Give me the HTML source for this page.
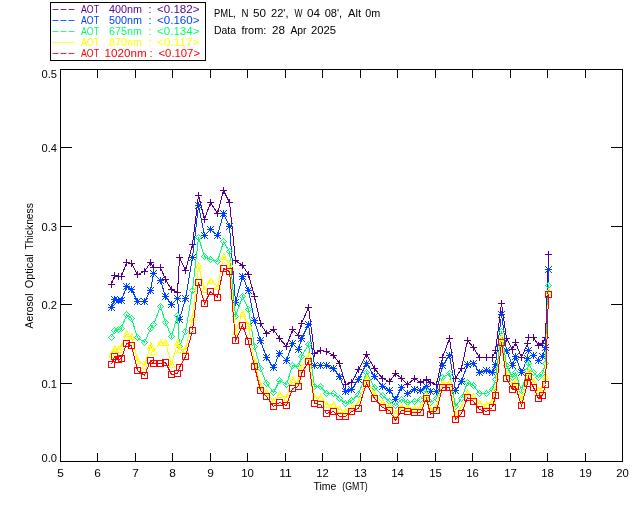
<!DOCTYPE html>
<html lang="en"><head><meta charset="utf-8"><title>AOT PML 28 Apr 2025</title>
<style>html,body{margin:0;padding:0;background:#fff}svg{display:block}text{font-family:"Liberation Sans",sans-serif;font-size:11px;fill:#000}.ln{fill:none;stroke-width:1;shape-rendering:crispEdges}</style></head><body>
<svg width="640" height="512" viewBox="0 0 640 512">
<rect width="640" height="512" fill="#fff"/>
<g class="ln" stroke="#000">
<rect x="60.5" y="69.5" width="562" height="392"/>
<path d="M97.5 461.5V453M97.5 69.5V78M135.5 461.5V453M135.5 69.5V78M172.5 461.5V453M172.5 69.5V78M210.5 461.5V453M210.5 69.5V78M247.5 461.5V453M247.5 69.5V78M285.5 461.5V453M285.5 69.5V78M322.5 461.5V453M322.5 69.5V78M360.5 461.5V453M360.5 69.5V78M397.5 461.5V453M397.5 69.5V78M435.5 461.5V453M435.5 69.5V78M472.5 461.5V453M472.5 69.5V78M510.5 461.5V453M510.5 69.5V78M547.5 461.5V453M547.5 69.5V78M585.5 461.5V453M585.5 69.5V78M60.5 383.5H72M622.5 383.5H611M60.5 304.5H72M622.5 304.5H611M60.5 226.5H72M622.5 226.5H611M60.5 147.5H72M622.5 147.5H611"/>
<rect x="50.5" y="2.5" width="155" height="58"/>
</g>
<defs>
<marker id="mP" viewBox="-4 -4 8 8" markerWidth="8" markerHeight="8" refX="0" refY="0" markerUnits="userSpaceOnUse" orient="0"><path d="M-0.5 -3.5h1v1h-1zM-0.5 -2.5h1v1h-1zM-0.5 -1.5h1v1h-1zM-3.5 -0.5h7v1h-7zM-0.5 0.5h1v1h-1zM-0.5 1.5h1v1h-1zM-0.5 2.5h1v1h-1z" fill="#55008f" stroke="none" shape-rendering="crispEdges"/></marker>
<marker id="mB" viewBox="-4 -4 8 8" markerWidth="8" markerHeight="8" refX="0" refY="0" markerUnits="userSpaceOnUse" orient="0"><path d="M-3.5 -3.5h1v1h-1zM-0.5 -3.5h1v1h-1zM2.5 -3.5h1v1h-1zM-2.5 -2.5h1v1h-1zM-0.5 -2.5h1v1h-1zM1.5 -2.5h1v1h-1zM-1.5 -1.5h3v1h-3zM-3.5 -0.5h7v1h-7zM-1.5 0.5h3v1h-3zM-2.5 1.5h1v1h-1zM-0.5 1.5h1v1h-1zM1.5 1.5h1v1h-1zM-3.5 2.5h1v1h-1zM-0.5 2.5h1v1h-1zM2.5 2.5h1v1h-1z" fill="#0040ff" stroke="none" shape-rendering="crispEdges"/></marker>
<marker id="mG" viewBox="-4 -4 8 8" markerWidth="8" markerHeight="8" refX="0" refY="0" markerUnits="userSpaceOnUse" orient="0"><path d="M-0.5 -3.5h1v1h-1zM-1.5 -2.5h1v1h-1zM0.5 -2.5h1v1h-1zM-2.5 -1.5h1v1h-1zM1.5 -1.5h1v1h-1zM-3.5 -0.5h1v1h-1zM2.5 -0.5h1v1h-1zM-2.5 0.5h1v1h-1zM1.5 0.5h1v1h-1zM-1.5 1.5h1v1h-1zM0.5 1.5h1v1h-1zM-0.5 2.5h1v1h-1z" fill="#00ff70" stroke="none" shape-rendering="crispEdges"/></marker>
<marker id="mY" viewBox="-4 -4 8 8" markerWidth="8" markerHeight="8" refX="0" refY="0" markerUnits="userSpaceOnUse" orient="0"><path d="M-0.5 -3.5h1v1h-1zM-0.5 -2.5h2v1h-2zM-1.5 -1.5h1v1h-1zM0.5 -1.5h1v1h-1zM-1.5 -0.5h1v1h-1zM1.5 -0.5h1v1h-1zM-2.5 0.5h1v1h-1zM1.5 0.5h1v1h-1zM-2.5 1.5h1v1h-1zM2.5 1.5h1v1h-1zM-3.5 2.5h7v1h-7z" fill="#ffff00" stroke="none" shape-rendering="crispEdges"/></marker>
<marker id="mR" viewBox="-4 -4 8 8" markerWidth="8" markerHeight="8" refX="0" refY="0" markerUnits="userSpaceOnUse" orient="0"><path d="M-3.5 -3.5h7v1h-7zM-3.5 -2.5h1v1h-1zM2.5 -2.5h1v1h-1zM-3.5 -1.5h1v1h-1zM2.5 -1.5h1v1h-1zM-3.5 -0.5h1v1h-1zM2.5 -0.5h1v1h-1zM-3.5 0.5h1v1h-1zM2.5 0.5h1v1h-1zM-3.5 1.5h1v1h-1zM2.5 1.5h1v1h-1zM-3.5 2.5h7v1h-7z" fill="#ff0000" stroke="none" shape-rendering="crispEdges"/></marker>
</defs>
<polyline class="ln" stroke="#55008f" marker-start="url(#mP)" marker-mid="url(#mP)" marker-end="url(#mP)" points="111.5,284.5 114.5,275.5 118.5,276.5 121.5,276.5 126.5,262.5 131.5,263.5 137.5,274.5 144.5,271.5 150.5,262.5 153.5,267.5 160.5,267.5 165.5,279.5 171.5,289.5 177.5,292.5 179.5,257.5 185.5,270.5 192.5,244.5 198.5,195.5 204.5,219.5 210.5,202.5 217.5,213.5 223.5,190.5 229.5,202.5 235.5,260.5 242.5,265.5 248.5,274.5 254.5,296.5 260.5,323.5 266.5,333.5 273.5,329.5 279.5,338.5 286.5,346.5 292.5,329.5 298.5,335.5 301.5,323.5 308.5,307.5 314.5,353.5 320.5,350.5 326.5,351.5 333.5,355.5 339.5,363.5 345.5,384.5 351.5,382.5 358.5,369.5 366.5,354.5 374.5,368.5 382.5,378.5 389.5,381.5 395.5,373.5 401.5,378.5 407.5,384.5 414.5,378.5 420.5,382.5 426.5,379.5 430.5,382.5 436.5,384.5 442.5,357.5 449.5,338.5 455.5,378.5 461.5,368.5 467.5,340.5 473.5,347.5 479.5,357.5 486.5,357.5 492.5,357.5 495.5,350.5 501.5,303.5 506.5,338.5 512.5,349.5 515.5,342.5 521.5,357.5 527.5,343.5 528.5,337.5 533.5,337.5 538.5,345.5 542.5,343.5 545.5,337.5 548.5,254.5"/>
<polyline class="ln" stroke="#0040ff" marker-start="url(#mB)" marker-mid="url(#mB)" marker-end="url(#mB)" points="111.5,307.5 114.5,299.5 118.5,300.5 121.5,300.5 126.5,286.5 131.5,289.5 137.5,301.5 144.5,301.5 150.5,290.5 153.5,273.5 160.5,280.5 165.5,296.5 171.5,304.5 177.5,298.5 179.5,319.5 185.5,298.5 192.5,257.5 198.5,205.5 204.5,235.5 210.5,229.5 217.5,235.5 223.5,213.5 229.5,226.5 235.5,302.5 242.5,276.5 248.5,290.5 254.5,320.5 260.5,340.5 266.5,357.5 273.5,367.5 279.5,353.5 286.5,360.5 292.5,343.5 298.5,349.5 301.5,338.5 308.5,324.5 314.5,365.5 320.5,365.5 326.5,365.5 333.5,368.5 339.5,376.5 345.5,391.5 351.5,389.5 358.5,379.5 366.5,363.5 374.5,376.5 382.5,386.5 389.5,390.5 395.5,399.5 401.5,387.5 407.5,393.5 414.5,389.5 420.5,390.5 426.5,386.5 430.5,391.5 436.5,391.5 442.5,365.5 449.5,355.5 455.5,390.5 461.5,381.5 467.5,364.5 473.5,363.5 479.5,372.5 486.5,370.5 492.5,372.5 495.5,364.5 501.5,314.5 506.5,350.5 512.5,365.5 515.5,356.5 521.5,372.5 527.5,358.5 528.5,350.5 533.5,355.5 538.5,360.5 542.5,356.5 545.5,347.5 548.5,269.5"/>
<polyline class="ln" stroke="#00ff70" marker-start="url(#mG)" marker-mid="url(#mG)" marker-end="url(#mG)" points="111.5,337.5 114.5,330.5 118.5,329.5 121.5,328.5 126.5,314.5 131.5,318.5 137.5,337.5 144.5,342.5 150.5,328.5 153.5,324.5 160.5,306.5 165.5,322.5 171.5,336.5 177.5,315.5 179.5,346.5 185.5,331.5 192.5,290.5 198.5,237.5 204.5,256.5 210.5,259.5 217.5,261.5 223.5,241.5 229.5,251.5 235.5,316.5 242.5,296.5 248.5,309.5 254.5,346.5 260.5,368.5 266.5,383.5 273.5,392.5 279.5,380.5 286.5,384.5 292.5,365.5 298.5,366.5 301.5,356.5 308.5,344.5 314.5,386.5 320.5,386.5 326.5,393.5 333.5,393.5 339.5,398.5 345.5,403.5 351.5,400.5 358.5,394.5 366.5,372.5 374.5,387.5 382.5,395.5 389.5,401.5 395.5,405.5 401.5,399.5 407.5,402.5 414.5,401.5 420.5,399.5 426.5,390.5 430.5,402.5 436.5,398.5 442.5,377.5 449.5,373.5 455.5,406.5 461.5,398.5 467.5,382.5 473.5,385.5 479.5,393.5 486.5,393.5 492.5,389.5 495.5,379.5 501.5,331.5 506.5,365.5 512.5,377.5 515.5,372.5 521.5,390.5 527.5,370.5 528.5,363.5 533.5,372.5 538.5,377.5 542.5,373.5 545.5,363.5 548.5,285.5"/>
<polyline class="ln" stroke="#ffff00" marker-start="url(#mY)" marker-mid="url(#mY)" marker-end="url(#mY)" points="111.5,354.5 114.5,348.5 118.5,349.5 121.5,346.5 126.5,333.5 131.5,336.5 137.5,360.5 144.5,365.5 150.5,345.5 153.5,351.5 160.5,342.5 165.5,342.5 171.5,364.5 177.5,342.5 179.5,349.5 185.5,349.5 192.5,317.5 198.5,265.5 204.5,289.5 210.5,280.5 217.5,286.5 223.5,256.5 229.5,263.5 235.5,331.5 242.5,313.5 248.5,325.5 254.5,361.5 260.5,385.5 266.5,392.5 273.5,401.5 279.5,394.5 286.5,397.5 292.5,379.5 298.5,381.5 301.5,367.5 308.5,355.5 314.5,397.5 320.5,397.5 326.5,404.5 333.5,404.5 339.5,409.5 345.5,411.5 351.5,407.5 358.5,402.5 366.5,378.5 374.5,394.5 382.5,402.5 389.5,406.5 395.5,413.5 401.5,406.5 407.5,407.5 414.5,408.5 420.5,407.5 426.5,395.5 430.5,409.5 436.5,406.5 442.5,382.5 449.5,382.5 455.5,414.5 461.5,407.5 467.5,392.5 473.5,396.5 479.5,403.5 486.5,404.5 492.5,400.5 495.5,389.5 501.5,337.5 506.5,373.5 512.5,384.5 515.5,381.5 521.5,399.5 527.5,378.5 528.5,371.5 533.5,381.5 538.5,390.5 542.5,387.5 545.5,376.5 548.5,291.5"/>
<polyline class="ln" stroke="#ff0000" marker-start="url(#mR)" marker-mid="url(#mR)" marker-end="url(#mR)" points="111.5,364.5 114.5,356.5 118.5,359.5 121.5,358.5 126.5,343.5 131.5,345.5 137.5,370.5 144.5,375.5 150.5,360.5 153.5,363.5 160.5,363.5 165.5,362.5 171.5,374.5 177.5,373.5 179.5,367.5 185.5,356.5 192.5,330.5 198.5,282.5 204.5,303.5 210.5,291.5 217.5,297.5 223.5,268.5 229.5,271.5 235.5,340.5 242.5,325.5 248.5,341.5 254.5,366.5 260.5,390.5 266.5,396.5 273.5,406.5 279.5,402.5 286.5,405.5 292.5,388.5 298.5,386.5 301.5,373.5 308.5,361.5 314.5,403.5 320.5,404.5 326.5,413.5 333.5,411.5 339.5,416.5 345.5,416.5 351.5,411.5 358.5,408.5 366.5,383.5 374.5,398.5 382.5,407.5 389.5,410.5 395.5,420.5 401.5,410.5 407.5,411.5 414.5,412.5 420.5,412.5 426.5,398.5 430.5,414.5 436.5,410.5 442.5,387.5 449.5,387.5 455.5,419.5 461.5,413.5 467.5,397.5 473.5,401.5 479.5,409.5 486.5,411.5 492.5,407.5 495.5,395.5 501.5,342.5 506.5,378.5 512.5,389.5 515.5,386.5 521.5,405.5 527.5,383.5 528.5,376.5 533.5,387.5 538.5,398.5 542.5,395.5 545.5,384.5 548.5,294.5"/>
<text x="51.6" y="11.6" textLength="24" lengthAdjust="spacingAndGlyphs" style="fill:#55008f">---</text>
<g style="fill:#55008f">
<text x="81" y="13" textLength="18" lengthAdjust="spacingAndGlyphs" style="fill:#55008f">AOT</text>
<text x="109" y="13" textLength="33" lengthAdjust="spacingAndGlyphs" style="fill:#55008f">400nm</text>
<text x="148.5" y="13" style="fill:#55008f">:</text>
<text x="157" y="13" textLength="42.5" lengthAdjust="spacingAndGlyphs" style="fill:#55008f">&lt;0.182&gt;</text>
</g>
<text x="51.6" y="22.6" textLength="24" lengthAdjust="spacingAndGlyphs" style="fill:#0040ff">---</text>
<g style="fill:#0040ff">
<text x="81" y="24" textLength="18" lengthAdjust="spacingAndGlyphs" style="fill:#0040ff">AOT</text>
<text x="109" y="24" textLength="33" lengthAdjust="spacingAndGlyphs" style="fill:#0040ff">500nm</text>
<text x="148.5" y="24" style="fill:#0040ff">:</text>
<text x="157" y="24" textLength="42.5" lengthAdjust="spacingAndGlyphs" style="fill:#0040ff">&lt;0.160&gt;</text>
</g>
<text x="51.6" y="33.6" textLength="24" lengthAdjust="spacingAndGlyphs" style="fill:#00ff70">---</text>
<g style="fill:#00ff70">
<text x="81" y="35" textLength="18" lengthAdjust="spacingAndGlyphs" style="fill:#00ff70">AOT</text>
<text x="109" y="35" textLength="33" lengthAdjust="spacingAndGlyphs" style="fill:#00ff70">675nm</text>
<text x="148.5" y="35" style="fill:#00ff70">:</text>
<text x="157" y="35" textLength="42.5" lengthAdjust="spacingAndGlyphs" style="fill:#00ff70">&lt;0.134&gt;</text>
</g>
<text x="51.6" y="44.6" textLength="24" lengthAdjust="spacingAndGlyphs" style="fill:#ffff00">---</text>
<g style="fill:#ffff00">
<text x="81" y="46" textLength="18" lengthAdjust="spacingAndGlyphs" style="fill:#ffff00">AOT</text>
<text x="109" y="46" textLength="33" lengthAdjust="spacingAndGlyphs" style="fill:#ffff00">870nm</text>
<text x="148.5" y="46" style="fill:#ffff00">:</text>
<text x="157" y="46" textLength="42.5" lengthAdjust="spacingAndGlyphs" style="fill:#ffff00">&lt;0.117&gt;</text>
</g>
<text x="51.6" y="55.6" textLength="24" lengthAdjust="spacingAndGlyphs" style="fill:#ff0000">---</text>
<g style="fill:#ff0000">
<text x="81" y="57" textLength="18" lengthAdjust="spacingAndGlyphs" style="fill:#ff0000">AOT</text>
<text x="104.6" y="57" textLength="42" lengthAdjust="spacingAndGlyphs" style="fill:#ff0000">1020nm</text>
<text x="149.5" y="57" style="fill:#ff0000">:</text>
<text x="158.5" y="57" textLength="41.5" lengthAdjust="spacingAndGlyphs" style="fill:#ff0000">&lt;0.107&gt;</text>
</g>
<text x="214" y="17" textLength="22" lengthAdjust="spacingAndGlyphs">PML,</text>
<text x="241.4" y="17" textLength="7" lengthAdjust="spacingAndGlyphs">N</text>
<text x="253" y="17" textLength="13" lengthAdjust="spacingAndGlyphs">50</text>
<text x="271" y="17" textLength="17.5" lengthAdjust="spacingAndGlyphs">22',</text>
<text x="294.4" y="17" textLength="8" lengthAdjust="spacingAndGlyphs">W</text>
<text x="307" y="17" textLength="13" lengthAdjust="spacingAndGlyphs">04</text>
<text x="324.7" y="17" textLength="17.5" lengthAdjust="spacingAndGlyphs">08',</text>
<text x="348" y="17" textLength="13" lengthAdjust="spacingAndGlyphs">Alt</text>
<text x="365.3" y="17" textLength="15" lengthAdjust="spacingAndGlyphs">0m</text>
<text x="214" y="34" textLength="22" lengthAdjust="spacingAndGlyphs">Data</text>
<text x="241.4" y="34" textLength="25" lengthAdjust="spacingAndGlyphs">from:</text>
<text x="272" y="34" textLength="13" lengthAdjust="spacingAndGlyphs">28</text>
<text x="290.5" y="34" textLength="16" lengthAdjust="spacingAndGlyphs">Apr</text>
<text x="311" y="34" textLength="25" lengthAdjust="spacingAndGlyphs">2025</text>
<text x="60.5" y="477" text-anchor="middle" textLength="6.6" lengthAdjust="spacingAndGlyphs">5</text>
<text x="97.5" y="477" text-anchor="middle" textLength="6.6" lengthAdjust="spacingAndGlyphs">6</text>
<text x="135.5" y="477" text-anchor="middle" textLength="6.6" lengthAdjust="spacingAndGlyphs">7</text>
<text x="172.5" y="477" text-anchor="middle" textLength="6.6" lengthAdjust="spacingAndGlyphs">8</text>
<text x="210.5" y="477" text-anchor="middle" textLength="6.6" lengthAdjust="spacingAndGlyphs">9</text>
<text x="247.5" y="477" text-anchor="middle" textLength="12.6" lengthAdjust="spacingAndGlyphs">10</text>
<text x="285.5" y="477" text-anchor="middle" textLength="12.6" lengthAdjust="spacingAndGlyphs">11</text>
<text x="322.5" y="477" text-anchor="middle" textLength="12.6" lengthAdjust="spacingAndGlyphs">12</text>
<text x="360.5" y="477" text-anchor="middle" textLength="12.6" lengthAdjust="spacingAndGlyphs">13</text>
<text x="397.5" y="477" text-anchor="middle" textLength="12.6" lengthAdjust="spacingAndGlyphs">14</text>
<text x="435.5" y="477" text-anchor="middle" textLength="12.6" lengthAdjust="spacingAndGlyphs">15</text>
<text x="472.5" y="477" text-anchor="middle" textLength="12.6" lengthAdjust="spacingAndGlyphs">16</text>
<text x="510.5" y="477" text-anchor="middle" textLength="12.6" lengthAdjust="spacingAndGlyphs">17</text>
<text x="547.5" y="477" text-anchor="middle" textLength="12.6" lengthAdjust="spacingAndGlyphs">18</text>
<text x="585.5" y="477" text-anchor="middle" textLength="12.6" lengthAdjust="spacingAndGlyphs">19</text>
<text x="622.5" y="477" text-anchor="middle" textLength="12.6" lengthAdjust="spacingAndGlyphs">20</text>
<text x="57" y="462" text-anchor="end" textLength="15.5" lengthAdjust="spacingAndGlyphs">0.0</text>
<text x="57" y="388" text-anchor="end" textLength="15.5" lengthAdjust="spacingAndGlyphs">0.1</text>
<text x="57" y="309" text-anchor="end" textLength="15.5" lengthAdjust="spacingAndGlyphs">0.2</text>
<text x="57" y="231" text-anchor="end" textLength="15.5" lengthAdjust="spacingAndGlyphs">0.3</text>
<text x="57" y="152" text-anchor="end" textLength="15.5" lengthAdjust="spacingAndGlyphs">0.4</text>
<text x="57" y="77.5" text-anchor="end" textLength="15.5" lengthAdjust="spacingAndGlyphs">0.5</text>
<text x="313.4" y="490" textLength="23" lengthAdjust="spacingAndGlyphs">Time</text>
<text x="342.3" y="490" textLength="25.5" lengthAdjust="spacingAndGlyphs">(GMT)</text>
<text transform="translate(33.2,328.4) rotate(-90)" textLength="35" lengthAdjust="spacingAndGlyphs" style="font-size:10.5px">Aerosol</text>
<text transform="translate(33.2,288.2) rotate(-90)" textLength="33.8" lengthAdjust="spacingAndGlyphs" style="font-size:10.5px">Optical</text>
<text transform="translate(33.2,249.5) rotate(-90)" textLength="46.4" lengthAdjust="spacingAndGlyphs" style="font-size:10.5px">Thickness</text>
</svg></body></html>
